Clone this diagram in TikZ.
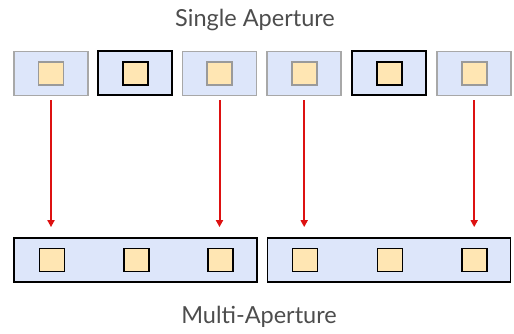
\documentclass[tikz,border=0pt]{standalone}
\usepackage{fontspec}
\setmainfont{Lato}
\usetikzlibrary{arrows.meta}
\definecolor{boxfill}{HTML}{DDE6FA}
\definecolor{boxgrey}{HTML}{A8A8A8}
\definecolor{sqfill}{HTML}{FFE6B3}
\definecolor{sqgrey}{HTML}{9A9A9A}
\definecolor{arrred}{HTML}{DD1111}
\definecolor{txtgrey}{HTML}{4D4D4D}
\begin{document}
\begin{tikzpicture}[x=1pt,y=-1pt,
  lightbox/.style={draw=boxgrey,fill=boxfill,line width=1.6pt,minimum width=74pt,minimum height=44pt,inner sep=0pt},
  darkbox/.style={draw=black,fill=boxfill,line width=1.8pt,minimum width=74pt,minimum height=44pt,inner sep=0pt},
  lightsq/.style={draw=sqgrey,fill=sqfill,line width=1.6pt,minimum width=25pt,minimum height=23pt,inner sep=0pt},
  darksq/.style={draw=black,fill=sqfill,line width=1.8pt,minimum width=25pt,minimum height=23pt,inner sep=0pt},
  bigbox/.style={draw=black,fill=boxfill,line width=1.8pt,minimum width=243pt,minimum height=44pt,inner sep=0pt},
  arr/.style={draw=arrred,line width=2pt,-{Triangle[width=7pt,length=7pt]},shorten <=4pt,shorten >=10pt},
  lbl/.style={text=txtgrey,font=\fontsize{23.5}{28}\selectfont,inner sep=0pt,anchor=base}
]
\useasboundingbox (0,0) rectangle (514,334);
\node[lbl] (title) at (255,27) {Single Aperture};
\node[lbl] (sub) at (259,323.5) {Multi-Aperture};
% top boxes
\node[lightbox] (t1) at (51,73.7) {};
\node[darkbox]  (t2) at (135.2,73.2) {};
\node[lightbox] (t3) at (219.5,73.7) {};
\node[lightbox] (t4) at (304.2,73.7) {};
\node[darkbox]  (t5) at (389.2,73.2) {};
\node[lightbox] (t6) at (474.2,73.7) {};
\node[lightsq] (s1) at (t1) {};
\node[darksq]  (s2) at (t2) {};
\node[lightsq] (s3) at (t3) {};
\node[lightsq] (s4) at (t4) {};
\node[darksq]  (s5) at (t5) {};
\node[lightsq] (s6) at (t6) {};
% bottom boxes
\node[bigbox] (b1) at (135.8,260) {};
\node[bigbox] (b2) at (389,260) {};
\node[darksq] (q1) at (52,260) {};
\node[darksq] (q2) at (136.7,260) {};
\node[darksq] (q3) at (220.8,260) {};
\node[darksq] (q4) at (305,260) {};
\node[darksq] (q5) at (390,260) {};
\node[darksq] (q6) at (474.2,260) {};
% arrows
\draw[arr] (t1.south) -- (t1.south |- b1.north);
\draw[arr] (t3.south) -- (t3.south |- b1.north);
\draw[arr] (t4.south) -- (t4.south |- b2.north);
\draw[arr] (t6.south) -- (t6.south |- b2.north);
\end{tikzpicture}
\end{document}
